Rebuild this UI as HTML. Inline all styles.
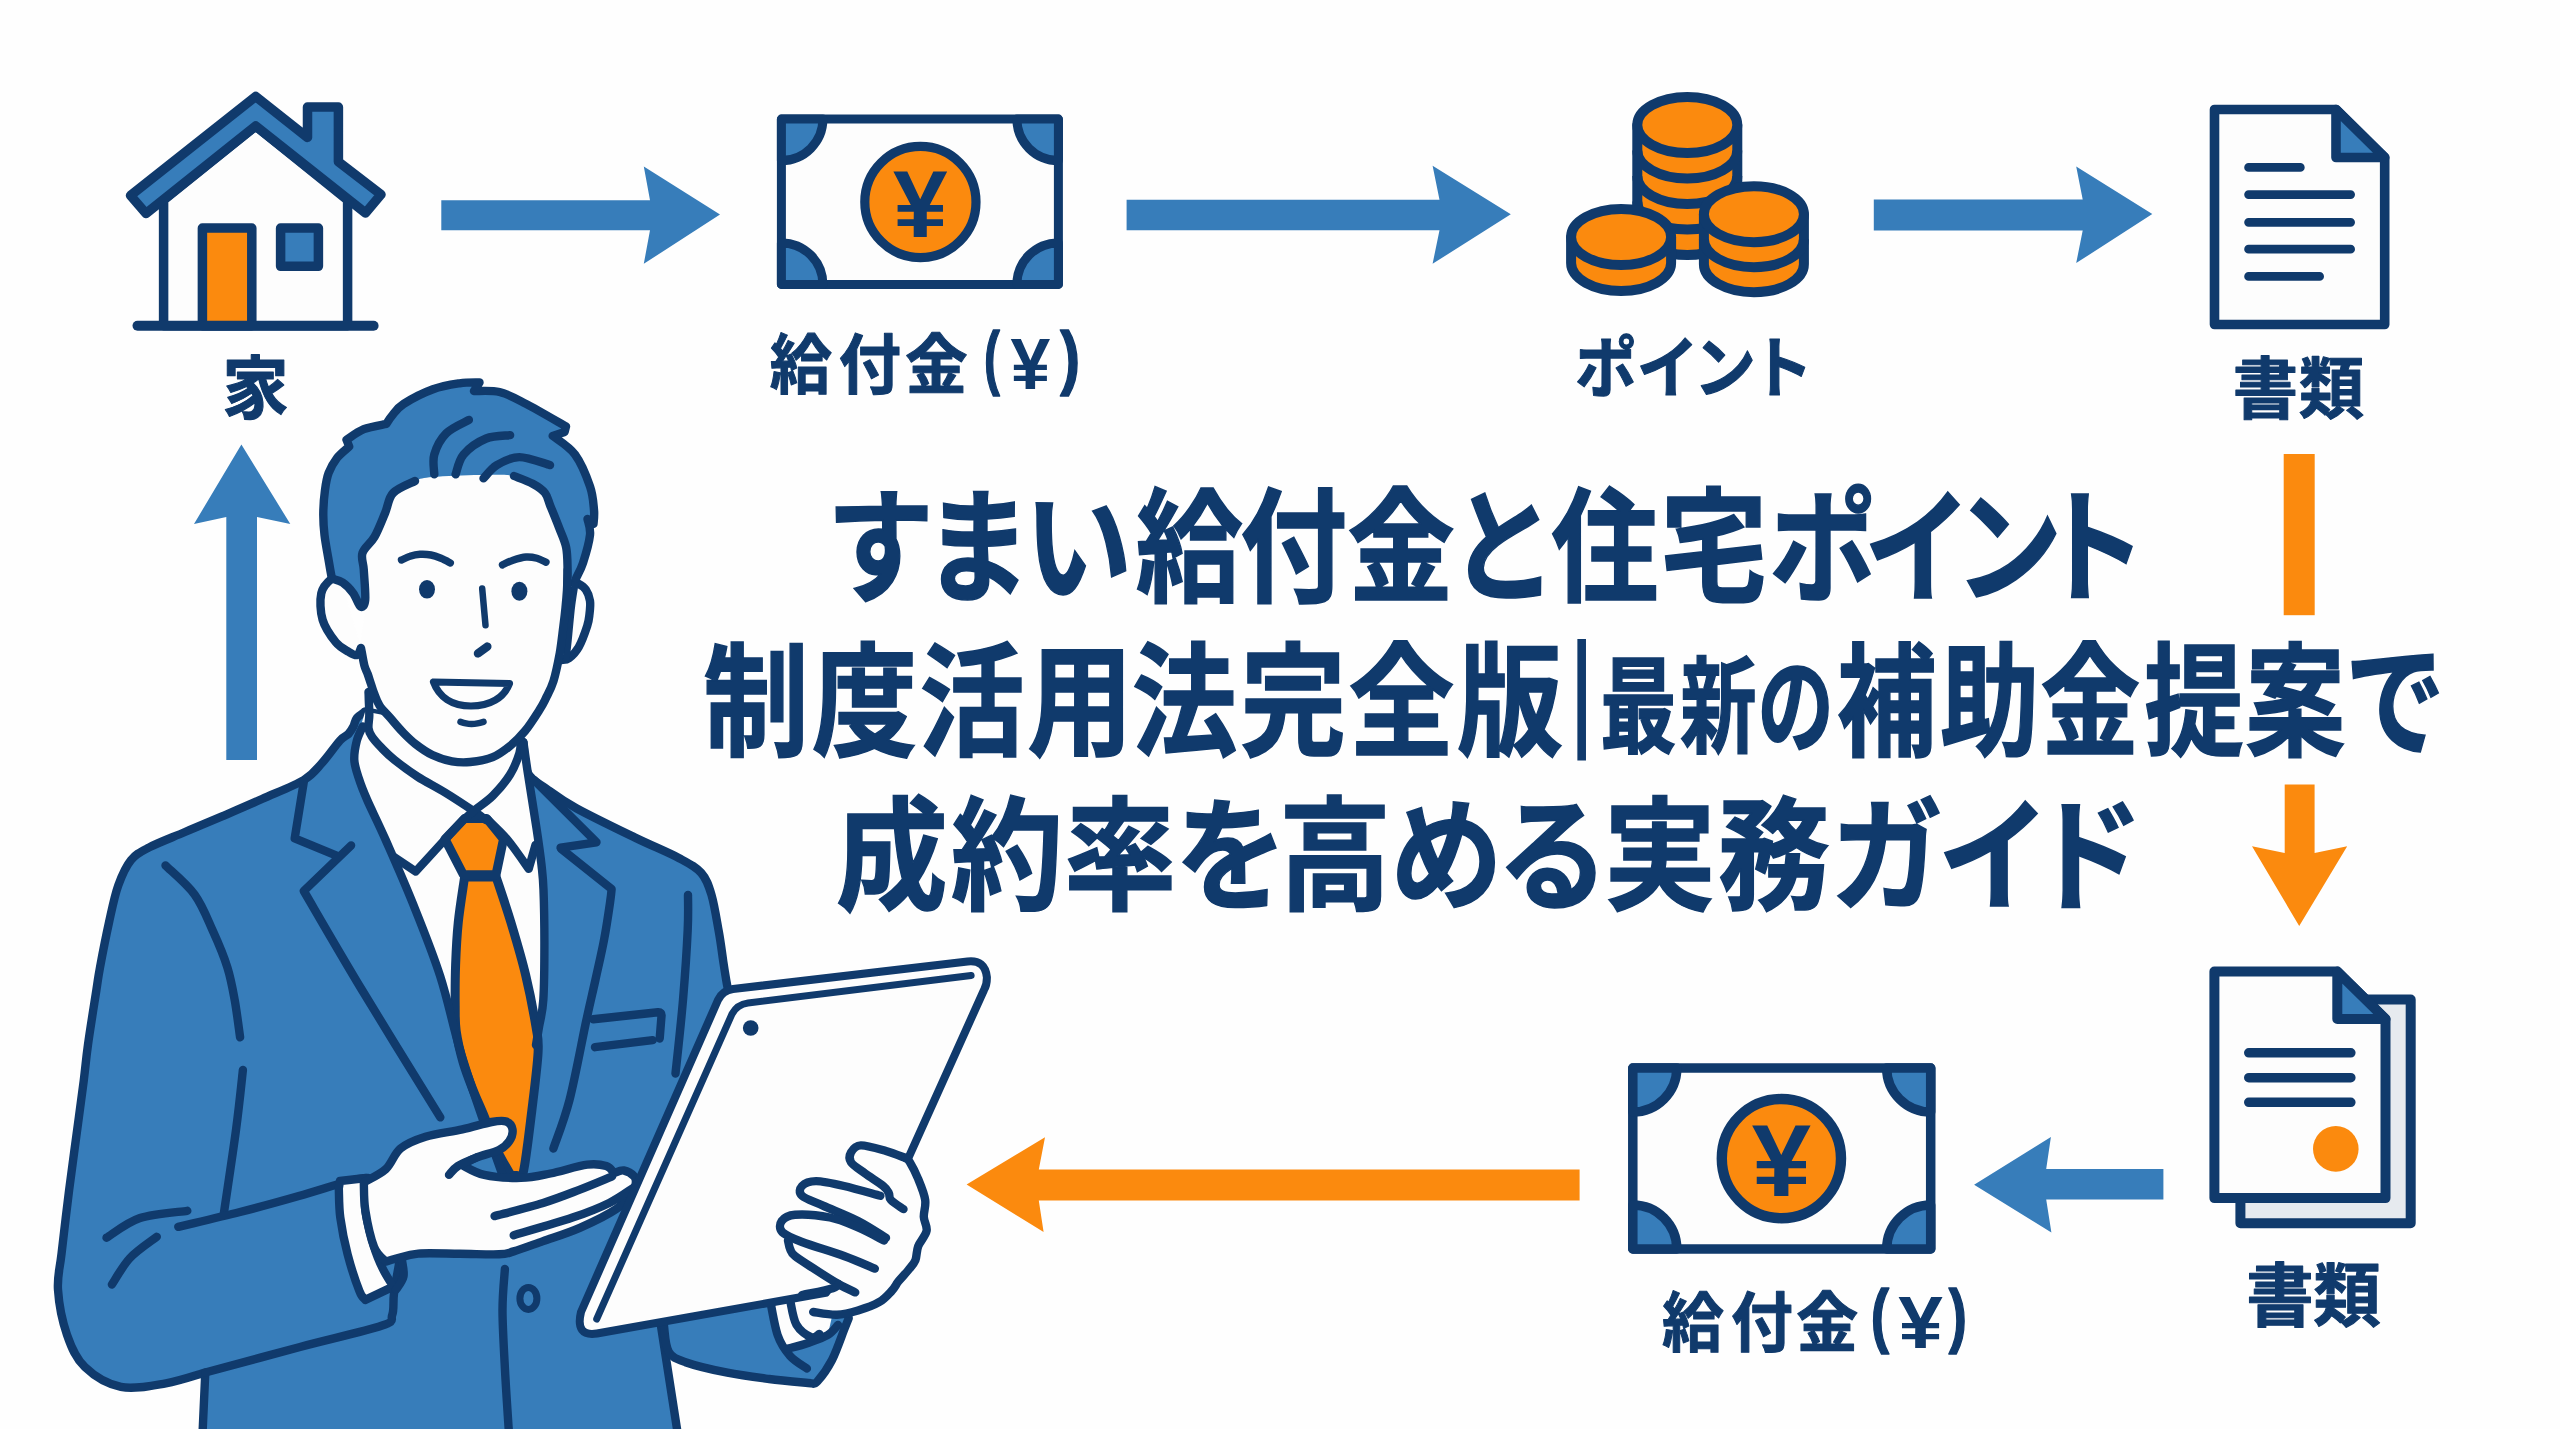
<!DOCTYPE html>
<html lang="ja">
<head>
<meta charset="utf-8">
<title>すまい給付金と住宅ポイント制度活用法完全版</title>
<style>
html,body{margin:0;padding:0;background:#fefefe;}
body{width:2560px;height:1429px;overflow:hidden;font-family:"Liberation Sans","Noto Sans CJK JP",sans-serif;}
svg{display:block;}
text{font-family:"Liberation Sans","Noto Sans CJK JP",sans-serif;}
</style>
</head>
<body>
<svg width="2560" height="1429" viewBox="0 0 2560 1429">
<!-- bg -->
<rect x="0" y="0" width="2560" height="1429" fill="#fefefe"/>

<!-- icons -->
<g id="house" stroke="#103a6c" stroke-width="9.5" stroke-linejoin="round" stroke-linecap="round">
  <path d="M163.6 200 V325.7 H347.6 V200 L255.7 126 Z" fill="#fdfdfd"/>
  <path d="M255.7 96.5 L307.5 137.4 V107 H338.4 V161.8 L381 194.5 L365.5 213 L255.7 126 L146 213.5 L130.5 195.5 Z" fill="#377dba"/>
  <rect x="202.4" y="228" width="49.4" height="97.7" fill="#fb8a0e"/>
  <rect x="280.6" y="228" width="37.8" height="38.3" fill="#377dba"/>
  <path d="M137.5 325.7 H373.6" fill="none" stroke-width="10"/>
</g>
<g id="note1" stroke="#103a6c" stroke-linejoin="round">
  <rect x="781.4" y="119.1" width="277" height="165.3" fill="#fdfdfd" stroke-width="9"/>
  <g fill="#377dba" stroke-width="9">
    <path d="M781.4 119.1 H822.9 A41.5 41.5 0 0 1 781.4 160.6 Z"/>
    <path d="M1058.4 119.1 H1016.9 A41.5 41.5 0 0 0 1058.4 160.6 Z"/>
    <path d="M781.4 284.4 H822.9 A41.5 41.5 0 0 0 781.4 242.9 Z"/>
    <path d="M1058.4 284.4 H1016.9 A41.5 41.5 0 0 1 1058.4 242.9 Z"/>
  </g>
  <circle cx="920.4" cy="202" r="55.6" fill="#fb8a0e" stroke-width="9.2"/>
  <g fill="#103a6c" stroke="none"><text transform="translate(0,236.7) scale(0.9820,0.9448)" x="909.27" y="0" font-size="100" font-weight="700">¥</text></g>
</g>
<g id="coins" fill="#fb8a0e" stroke="#103a6c" stroke-width="10" stroke-linejoin="round">
  <path d="M1637.3 125 V227 A50 28 0 0 0 1737.3 227 V125 Z"/>
  <path d="M1637.3 150.500 A50 28 0 0 0 1737.3 150.5 M1637.3 176 A50 28 0 0 0 1737.3 176 M1637.3 201.5 A50 28 0 0 0 1737.3 201.5" fill="none"/>
  <ellipse cx="1687.3" cy="125" rx="50" ry="28"/>
  <path d="M1703.900 214.2 V264.2 A50 28 0 0 0 1803.9 264.2 V214.2 Z"/>
  <path d="M1703.9 239.2 A50 28 0 0 0 1803.9 239.2" fill="none"/>
  <ellipse cx="1753.9" cy="214.2" rx="50" ry="28"/>
  <path d="M1571.1 237 V263 A50 28 0 0 0 1671.1 263 V237 Z"/>
  <ellipse cx="1621.1" cy="237" rx="50" ry="28"/>
</g>
<g id="doc1" stroke="#103a6c" stroke-width="9.6" stroke-linejoin="round" stroke-linecap="round">
  <path d="M2214.5 109.5 H2336 L2384.7 157.5 V324.5 H2214.5 Z" fill="#fdfdfd"/>
  <path d="M2336 109.500 V157.5 H2384.7 Z" fill="#377dba"/>
  <path d="M2248.600 167.4 H2300.3 M2248.6 194.6 H2350.6 M2248.6 222.3 H2350.6 M2248.6 249.2 H2350.6 M2248.6 276.4 H2319.6" fill="none" stroke-width="8.8"/>
</g>
<g id="doc2" stroke="#103a6c" stroke-width="10" stroke-linejoin="round" stroke-linecap="round">
  <path d="M2359 999.600 H2410.7 V1223.3 H2240.4 V1198" fill="#e6eaef"/>
  <path d="M2214.4 971.6 H2337.3 L2385.5 1019 V1198.1 H2214.4 Z" fill="#fdfdfd"/>
  <path d="M2337.3 971.600 V1019 H2385.5 Z" fill="#377dba"/>
  <path d="M2248.800 1052.8 H2350.800 M2248.8 1077.7 H2350.8 M2248.8 1102.3 H2350.8" fill="none" stroke-width="9.6"/>
  <circle cx="2335.8" cy="1148.9" r="22.8" fill="#fb8a0e" stroke="none"/>
</g>
<g id="note2" stroke="#103a6c" stroke-linejoin="round">
  <rect x="1632.8" y="1068" width="297.9" height="181" fill="#fdfdfd" stroke-width="9.5"/>
  <g fill="#377dba" stroke-width="9.5">
    <path d="M1632.8 1068 H1676.8 A44 44 0 0 1 1632.8 1112 Z"/>
    <path d="M1930.7 1068 H1886.7 A44 44 0 0 0 1930.7 1112 Z"/>
    <path d="M1632.8 1249 H1676.8 A44 44 0 0 0 1632.8 1205 Z"/>
    <path d="M1930.7 1249 H1886.7 A44 44 0 0 1 1930.7 1205 Z"/>
  </g>
  <circle cx="1781.4" cy="1158.6" r="59.6" fill="#fb8a0e" stroke-width="10.4"/>
  <g fill="#103a6c" stroke="none"><text transform="translate(0,1195.8) scale(1.0660,1.0189)" x="1643.35" y="0" font-size="100" font-weight="700">¥</text></g>
</g>

<!-- arrows -->
<g fill="#377dba">
  <path d="M441.3 200.3 H650 L643.8 166.500 L720 214.6 L643.8 263.8 L650 230.3 H441.3 Z"/>
  <path d="M1126.6 199.800 H1439.5 L1432.6 165.8 L1510.8 214.3 L1432.6 263.8 L1439.5 230.2 H1126.6 Z"/>
  <path d="M1873.800 199.6 H2082.700 L2076.2 166.4 L2152.3 214.1 L2076.2 263.1 L2082.7 230.5 H1873.8 Z"/>
  <path d="M241.4 444.500 L290.3 524 L257 517 V760 H226.3 V517 L194 524 Z"/>
  <path d="M2163.4 1169.100 H2046.2 L2050.9 1137 L1974.1 1184.8 L2051.4 1232.4 L2046.2 1199.6 H2163.4 Z"/>
</g>
<g fill="#fb8a0e">
  <rect x="2283.7" y="454" width="31" height="161.2"/>
  <path d="M2284.700 784.5 H2314.600 V853 L2347.2 846.2 L2299.2 926 L2252 846.2 L2284.7 853 Z"/>
  <path d="M1579.600 1169.6 H1038.800 L1045 1137.2 L966.6 1184.5 L1043.6 1232 L1038.8 1200.4 H1579.6 Z"/>
</g>

<!-- labels -->
<g fill="#103a6c">
<text transform="translate(0,412.7) scale(0.6638,0.6833)" x="334.67" y="0" font-size="100" font-weight="700" stroke="#103a6c" stroke-width="1.6" stroke-linejoin="round">家</text>
<text transform="translate(0,387.6) scale(0.6230,0.6524)" x="1235.45 1346.46 1452.95" y="0" font-size="100" font-weight="700" stroke="#103a6c" stroke-width="1.6" stroke-linejoin="round">給付金</text>
<text transform="translate(0,381.3) scale(0.4748,0.6963)" x="2072.33" y="0" font-size="100" font-weight="700" stroke="#103a6c" stroke-width="2.2" stroke-linejoin="round">(</text>
<text transform="translate(0,389.0) scale(0.7155,0.7268)" x="1412.42" y="0" font-size="100" font-weight="700">¥</text>
<text transform="translate(0,381.3) scale(0.5953,0.6963)" x="1780.95" y="0" font-size="100" font-weight="700" stroke="#103a6c" stroke-width="2.2" stroke-linejoin="round">)</text>
<text transform="translate(0,392.1) scale(0.6195,0.6699)" x="2542.36 2641.96 2734.65 2826.35" y="0" font-size="100" font-weight="700" stroke="#103a6c" stroke-width="1.6" stroke-linejoin="round">ポイント</text>
<text transform="translate(0,412.6) scale(0.6541,0.6656)" x="3413.58 3514.51" y="0" font-size="100" font-weight="700" stroke="#103a6c" stroke-width="1.6" stroke-linejoin="round">書類</text>
<text transform="translate(0,1321.2) scale(0.6747,0.6952)" x="3329.36 3428.69" y="0" font-size="100" font-weight="700" stroke="#103a6c" stroke-width="1.6" stroke-linejoin="round">書類</text>
<text transform="translate(0,1345.8) scale(0.6192,0.6429)" x="2683.92 2795.45 2900.73" y="0" font-size="100" font-weight="700" stroke="#103a6c" stroke-width="1.6" stroke-linejoin="round">給付金</text>
<text transform="translate(0,1339.4) scale(0.5492,0.7016)" x="3406.50" y="0" font-size="100" font-weight="700" stroke="#103a6c" stroke-width="2.2" stroke-linejoin="round">(</text>
<text transform="translate(0,1348.1) scale(0.8031,0.7427)" x="2363.59" y="0" font-size="100" font-weight="700">¥</text>
<text transform="translate(0,1339.4) scale(0.5457,0.7016)" x="3570.98" y="0" font-size="100" font-weight="700" stroke="#103a6c" stroke-width="2.2" stroke-linejoin="round">)</text>
</g>

<!-- title -->
<g fill="#103a6c">
<text transform="translate(0,591.5) scale(0.8645,1)" x="956.3 1068.7 1185.3 1313.9 1434.5 1558.8 1676.6 1794.5 1920.6 2046.5 2156.3 2261.5 2358.7" y="0" font-size="124" font-weight="700" stroke="#103a6c" stroke-width="1.50" stroke-linejoin="miter">すまい給付金と住宅ポイント</text>
<text transform="translate(0,746) scale(0.8579,1)" x="819.7 946.1 1071.2 1197.5 1319.2 1446.0 1572.1 1698.6" y="0" font-size="123" font-weight="700" stroke="#103a6c" stroke-width="1.51" stroke-linejoin="miter">制度活用法完全版</text>
<text transform="translate(0,731.6) scale(0.6722,1.2791)" x="2338.85" y="0" font-size="100" font-weight="700">|</text>
<text transform="translate(0,744) scale(0.7265,1)" x="2202.7 2312.9 2419.3" y="0" font-size="105" font-weight="700" stroke="#103a6c" stroke-width="1.62" stroke-linejoin="miter">最新の</text>
<text transform="translate(0,746) scale(0.8090,1)" x="2270.6 2398.0 2522.2 2650.4 2775.8 2898.9" y="0" font-size="123" font-weight="700" stroke="#103a6c" stroke-width="1.55" stroke-linejoin="miter">補助金提案で</text>
<text transform="translate(0,899.5) scale(0.9100,1)" x="918.5 1045.1 1169.6 1291.2 1405.5 1528.1 1644.9 1762.6 1887.9 2011.8 2129.4 2232.5" y="0" font-size="123" font-weight="700" stroke="#103a6c" stroke-width="1.47" stroke-linejoin="miter">成約率を高める実務ガイド</text>
</g>

<!-- man -->
<g id="man" stroke-linecap="round" stroke-linejoin="round">
<path d="M365.2 711.4 C363.8 712.5 358.8 715.6 356.8 718.1 C354.8 720.6 354.8 723.9 353.4 726.5 C352.0 729.1 350.6 731.7 348.4 734.0 C346.2 736.3 344.4 735.7 340.0 740.5 C335.6 745.3 328.0 756.4 322.0 763.0 C316.0 769.6 313.8 774.0 303.8 780.0 C293.8 786.0 275.6 792.9 262.0 799.0 C248.4 805.1 234.8 810.9 222.0 816.4 C209.2 821.9 197.1 826.8 185.0 832.0 C172.9 837.2 158.2 842.7 149.2 847.4 C140.2 852.1 136.2 853.7 131.0 860.1 C125.8 866.5 121.9 875.3 118.2 885.6 C114.5 895.9 112.1 908.4 109.1 922.0 C106.1 935.6 102.1 956.1 100.0 967.4 C97.9 978.7 98.4 977.1 96.4 990.0 C94.4 1002.9 90.1 1029.4 88.0 1044.6 C85.9 1059.8 85.6 1065.8 83.7 1081.0 C81.8 1096.2 78.8 1117.4 76.4 1135.6 C74.0 1153.8 71.6 1170.5 69.1 1190.2 C66.6 1209.9 63.4 1237.3 61.5 1253.9 C59.6 1270.5 57.1 1276.3 58.0 1289.8 C58.9 1303.3 62.5 1321.9 67.0 1334.8 C71.5 1347.7 75.9 1358.4 84.9 1367.1 C93.9 1375.8 107.4 1384.2 120.9 1386.9 C134.4 1389.6 151.7 1385.7 165.8 1383.3 C179.9 1380.9 198.7 1374.3 205.3 1372.5 L202.0 1445.0 L679.5 1445.0 L661.0 1326.0 L728.0 989.5  C727.7 987.9 727.0 984.8 726.2 980.0 C725.4 975.2 724.4 969.1 723.2 961.0 C722.0 952.9 720.8 942.6 718.8 931.6 C716.8 920.6 714.4 904.7 711.5 894.9 C708.6 885.1 706.6 879.0 701.2 872.9 C695.8 866.8 690.2 864.1 679.2 858.2 C668.2 852.3 652.2 845.9 635.1 837.6 C618.0 829.3 591.0 816.3 576.3 808.2 C561.6 800.1 555.0 795.0 546.9 789.1 C538.8 783.2 531.7 780.8 527.8 772.9 C523.9 765.0 524.1 747.1 523.4 742.0 Z" fill="#377dba" stroke="#103a6c" stroke-width="8.4" />
<path d="M365.2 711.4 C363.8 716.3 358.6 732.7 356.8 740.8 C355.0 748.9 354.0 753.8 354.3 760.0 C354.6 766.2 356.7 771.6 358.8 778.3 C360.9 785.0 362.7 789.7 367.2 800.0 C371.7 810.3 378.1 822.7 385.7 840.0 C393.3 857.3 403.9 881.0 413.0 903.8 C422.1 926.5 432.5 952.1 440.3 976.5 C448.1 1000.9 453.1 1026.6 460.0 1050.0 C466.9 1073.4 475.0 1096.4 482.0 1117.0 C489.0 1137.6 498.7 1164.1 502.0 1173.5 L522.5 1173.5  C523.9 1161.2 528.4 1121.4 531.0 1100.0 C533.6 1078.6 536.0 1061.7 538.0 1045.0 C540.0 1028.3 542.2 1017.0 543.3 1000.0 C544.4 983.0 544.4 961.3 544.4 943.0 C544.4 924.7 544.0 903.0 543.5 890.0 C543.0 877.0 542.6 875.2 541.5 865.0 C540.4 854.8 538.9 844.1 536.6 828.8 C534.3 813.4 530.0 787.4 527.8 772.9 C525.6 758.4 524.1 747.1 523.4 742.0 Z" fill="#fdfdfd" stroke="none" stroke-width="8.4" />
<path d="M464.6 877.0 C463.6 884.5 459.8 907.3 458.3 922.0 C456.8 936.7 456.1 951.0 455.6 965.0 C455.1 979.0 455.1 994.9 455.2 1005.9 C455.3 1016.9 454.9 1021.7 456.2 1031.1 C457.5 1040.4 460.2 1052.2 463.0 1062.0 C465.8 1071.8 469.4 1080.7 473.0 1089.9 C476.6 1099.1 480.6 1107.2 484.6 1117.2 C488.6 1127.2 492.6 1140.3 497.0 1150.0 C501.4 1159.7 508.7 1171.2 511.0 1175.5 L517.0 1175.5  C518.1 1174.9 520.9 1182.5 523.4 1171.7 C525.9 1160.9 529.3 1130.8 531.8 1110.9 C534.2 1091.0 537.4 1066.1 538.1 1052.1 C538.8 1038.1 538.1 1039.9 536.0 1026.9 C533.9 1014.0 529.7 991.9 525.5 974.4 C521.3 956.9 515.7 938.2 510.8 922.0 C505.9 905.8 498.6 884.5 496.1 877.0 Z" fill="#fb8a0e" stroke="#103a6c" stroke-width="9" />
<path d="M464.6 818.5 L486.7 818.5 L503.5 839.1 L496 874.8 L463.4 874.8 L445 839.1 Z" fill="#fb8a0e" stroke="#103a6c" stroke-width="9" />
<path d="M394.0 857.0 L415.7 871.5  C420.4 866.4 435.6 849.8 443.6 841.0 C451.7 832.2 460.6 822.7 464.0 819.0" fill="none" stroke="#103a6c" stroke-width="8.4" />
<path d="M487.0 819.0 C490.4 822.4 500.4 831.3 507.4 839.6 C514.4 847.9 525.2 864.0 528.7 868.9 L535.5 845.0" fill="none" stroke="#103a6c" stroke-width="8.4" />
<path d="M368.5 692.0 C368.6 693.3 368.7 696.1 368.8 700.0 C368.9 703.9 369.4 710.9 369.3 715.6 C369.2 720.3 368.1 724.7 368.5 728.2 C368.9 731.7 369.6 733.2 371.9 736.6 C374.1 740.0 378.2 744.4 382.0 748.3 C385.8 752.2 388.7 755.3 394.6 760.0 C400.5 764.7 409.1 771.2 417.5 776.6 C425.9 782.0 435.4 786.6 445.0 792.5 C454.6 798.4 468.2 807.4 475.0 812.0 C481.8 816.6 484.2 818.7 486.0 820.0" fill="none" stroke="#103a6c" stroke-width="8.4" />
<path d="M465.0 818.5 C466.5 817.1 469.6 814.2 474.2 810.4 C478.8 806.6 486.8 801.7 492.8 795.7 C498.8 789.7 505.7 781.6 510.1 774.5 C514.5 767.4 517.6 759.0 519.4 753.2 C521.2 747.4 520.5 742.1 520.7 739.9" fill="none" stroke="#103a6c" stroke-width="8.4" />
<path d="M362.7 726.5 C361.7 728.9 358.2 735.2 356.8 740.8 C355.4 746.4 354.0 753.8 354.3 760.0 C354.6 766.2 356.7 771.6 358.8 778.3 C360.9 785.0 362.7 789.7 367.2 800.0 C371.7 810.3 378.1 822.7 385.7 840.0 C393.3 857.3 403.9 881.0 413.0 903.8 C422.1 926.5 432.5 952.1 440.3 976.5 C448.1 1000.9 453.1 1026.6 460.0 1050.0 C466.9 1073.4 475.0 1096.4 482.0 1117.0 C489.0 1137.6 498.7 1164.1 502.0 1173.5" fill="none" stroke="#103a6c" stroke-width="8.4" />
<path d="M523.4 742.0 C524.1 747.1 525.6 758.4 527.8 772.9 C530.0 787.4 534.3 813.4 536.6 828.8 C538.9 844.1 540.4 854.8 541.5 865.0 C542.6 875.2 543.0 877.0 543.5 890.0 C544.0 903.0 544.4 924.7 544.4 943.0 C544.4 961.3 544.2 986.0 543.3 1000.0 C542.4 1014.0 540.2 1019.5 539.0 1027.0 C537.8 1034.5 536.5 1042.0 536.0 1045.0" fill="none" stroke="#103a6c" stroke-width="8.4" />
<path d="M303.8 781.8 L294.7 838.3 L338.4 856.4" fill="none" stroke="#103a6c" stroke-width="8.4" />
<path d="M351.1 845.5 L303.8 891.0  C313.5 907.5 339.2 952.3 362.0 990.0 C384.8 1027.7 427.2 1096.2 440.3 1117.4" fill="none" stroke="#103a6c" stroke-width="8.4" />
<path d="M534 780 L596.5 842.3 L560.6 847.6" fill="none" stroke="#103a6c" stroke-width="8.4" />
<path d="M561.0 848.6 L611.6 889.0  C611.4 891.2 611.3 893.9 610.1 902.2 C608.9 910.5 606.7 926.0 604.2 939.0 C601.8 952.0 598.4 966.3 595.4 980.0 C592.4 993.7 590.5 1001.0 586.2 1021.0 C581.9 1041.0 575.0 1078.8 569.5 1100.0 C564.0 1121.2 556.1 1140.4 553.4 1148.5" fill="none" stroke="#103a6c" stroke-width="8.4" />
<path d="M165.5 865.5 C170.4 870.4 186.8 883.8 194.7 894.7 C202.6 905.6 207.4 918.9 212.9 931.0 C218.4 943.1 223.8 955.9 227.4 967.4 C231.0 978.9 232.6 988.4 234.7 1000.0 C236.8 1011.6 239.2 1031.1 240.1 1037.3" fill="none" stroke="#103a6c" stroke-width="8.4" />
<path d="M242.9 1070.0 C241.8 1080.0 239.2 1106.0 236.0 1130.0 C232.8 1154.0 225.8 1199.8 223.8 1213.8" fill="none" stroke="#103a6c" stroke-width="8.4" />
<path d="M688.0 894.9 C688.0 900.8 688.5 912.5 687.7 930.0 C686.9 947.5 685.0 976.1 683.0 1000.0 C681.0 1023.9 676.8 1061.2 675.5 1073.5" fill="none" stroke="#103a6c" stroke-width="8.4" />
<path d="M593.2 1019.2 L658 1012.2 Q662 1012 661.5 1016 L659.7 1038.5" fill="none" stroke="#103a6c" stroke-width="8.4" />
<path d="M595 1047.2 L652.7 1040.2" fill="none" stroke="#103a6c" stroke-width="8.4" />
<path d="M504.9 1269.0 C504.5 1275.8 502.5 1293.2 502.5 1310.0 C502.5 1326.8 503.9 1348.3 505.0 1370.0 C506.1 1391.7 508.7 1428.3 509.4 1440.0" fill="none" stroke="#103a6c" stroke-width="8.4" />
<ellipse cx="528.4" cy="1298.4" rx="8.5" ry="11" fill="#377dba" stroke="#103a6c" stroke-width="7"/>
<path d="M178.3 1226.8 C188.6 1224.3 219.9 1217.1 240.0 1212.0 C260.1 1206.9 280.6 1201.2 298.8 1196.0 C317.0 1190.8 337.7 1184.0 349.3 1181.0 C360.9 1178.0 365.1 1178.4 368.2 1177.9" fill="none" stroke="#103a6c" stroke-width="8.4" />
<path d="M106.5 1237.7 C112.1 1234.4 126.5 1222.5 140.0 1218.0 C153.5 1213.5 179.4 1212.0 187.3 1210.8" fill="none" stroke="#103a6c" stroke-width="8.4" />
<path d="M111.9 1284.5 C114.9 1280.1 122.5 1266.0 130.0 1258.0 C137.5 1250.0 152.3 1240.3 156.8 1236.8" fill="none" stroke="#103a6c" stroke-width="8.4" />
<path d="M205.3 1372.5 C221.1 1368.2 270.6 1354.8 300.0 1347.0 C329.4 1339.2 366.0 1331.1 381.4 1325.8 C396.8 1320.5 390.1 1320.4 392.2 1315.0 C394.3 1309.6 392.8 1302.2 394.0 1293.4 C395.2 1284.6 398.5 1267.2 399.4 1262.0" fill="none" stroke="#103a6c" stroke-width="8.4" />
<path d="M340.0 1181.0 L366.0 1178.0  C365.9 1183.4 363.9 1198.7 365.3 1210.2 C366.7 1221.7 371.2 1237.2 374.1 1247.0 C377.0 1256.8 379.7 1262.4 382.9 1269.0 C386.1 1275.6 391.5 1283.7 393.2 1286.6 L365.3 1299.9  C364.3 1298.4 362.3 1298.6 359.4 1291.0 C356.4 1283.4 350.8 1266.5 347.6 1254.3 C344.4 1242.1 341.8 1228.6 340.3 1217.6 C338.8 1206.6 339.1 1193.1 338.8 1188.2 Z" fill="#fdfdfd" stroke="#103a6c" stroke-width="8.4" />
<path d="M363.8 1182.3 C367.5 1180.1 379.7 1174.7 385.8 1169.1 C391.9 1163.5 393.9 1153.9 400.5 1148.5 C407.1 1143.1 415.2 1139.9 425.5 1136.7 C435.8 1133.5 451.3 1131.9 462.3 1129.4 C473.3 1127.0 484.3 1123.3 491.6 1122.0 C498.9 1120.7 502.8 1120.3 506.3 1121.5 C509.8 1122.7 512.0 1126.1 512.5 1129.4 C513.0 1132.7 511.6 1137.7 509.3 1141.1 C507.1 1144.5 504.4 1147.3 499.0 1150.0 C493.6 1152.7 483.1 1154.8 476.9 1157.3 C470.7 1159.8 464.5 1163.7 462.0 1165.0  C465.7 1166.7 474.5 1172.8 484.3 1174.9 C494.1 1177.1 510.0 1178.1 521.0 1177.9 C532.0 1177.7 539.4 1175.7 550.4 1173.5 C561.4 1171.3 577.9 1165.9 587.2 1164.7 C596.5 1163.5 601.8 1164.7 606.3 1166.1 C610.8 1167.5 612.7 1171.8 614.0 1173.0  C615.6 1172.6 620.5 1169.9 623.9 1170.5 C627.3 1171.1 632.2 1174.2 634.2 1176.4 C636.2 1178.7 636.1 1181.4 635.7 1184.0 C635.3 1186.6 632.6 1190.7 632.0 1192.0  C629.4 1194.8 625.3 1202.7 616.6 1208.7 C607.9 1214.7 592.0 1222.4 579.8 1227.8 C567.5 1233.2 554.1 1237.2 543.1 1241.1 C532.1 1245.0 521.1 1249.2 513.7 1251.4 C506.4 1253.6 507.9 1253.9 499.0 1254.3 C490.1 1254.7 473.5 1253.9 460.0 1253.8 C446.5 1253.7 428.8 1252.8 418.2 1253.6 C407.6 1254.4 401.5 1257.4 396.1 1258.7 C390.7 1260.0 387.5 1261.1 385.8 1261.6  C383.9 1259.2 377.5 1255.6 374.1 1247.0 C370.7 1238.4 367.0 1221.0 365.3 1210.2 C363.6 1199.4 364.1 1187.0 363.8 1182.3 Z" fill="#fdfdfd" stroke="#103a6c" stroke-width="8.4" />
<path d="M476.9 1157.3 C473.7 1158.8 462.4 1163.2 457.8 1166.1 C453.2 1169.0 450.5 1173.4 449.0 1174.9" fill="none" stroke="#103a6c" stroke-width="8.4" />
<path d="M612.1 1176.4 C606.7 1178.6 591.3 1185.2 579.8 1189.6 C568.3 1194.0 557.3 1198.5 543.1 1202.9 C528.9 1207.3 502.7 1213.9 494.6 1216.1" fill="none" stroke="#103a6c" stroke-width="8.4" />
<path d="M632.7 1188.2 C628.8 1190.7 619.2 1198.0 609.2 1202.9 C599.2 1207.8 588.4 1212.2 572.5 1217.6 C556.6 1223.0 523.5 1232.3 513.7 1235.2" fill="none" stroke="#103a6c" stroke-width="8.4" />
<path d="M402.0 1260.2 C402.2 1262.9 404.5 1271.4 403.5 1276.3 C402.5 1281.2 397.3 1287.4 396.1 1289.6" fill="none" stroke="#103a6c" stroke-width="8.4" />
<path d="M663.0 1300.0 C663.2 1304.3 663.0 1317.4 664.0 1326.0 C665.0 1334.6 665.2 1345.8 668.8 1351.8 C672.4 1357.8 675.7 1358.7 685.5 1362.2 C695.3 1365.7 713.4 1369.9 727.4 1372.7 C741.4 1375.5 755.3 1377.2 769.2 1379.0 C783.1 1380.8 804.0 1382.5 811.0 1383.2  C812.0 1382.9 813.8 1385.4 817.3 1381.5 C820.8 1377.6 827.5 1368.8 832.0 1360.0 C836.5 1351.2 841.7 1335.7 844.5 1328.7 C847.3 1321.8 848.0 1320.0 848.7 1318.3 L840.0 1270.0 L663.0 1300.0 Z" fill="#377dba" stroke="#103a6c" stroke-width="8.4" />
<path d="M769.2 1290.0 C770.6 1297.5 774.5 1325.2 777.6 1335.0 C780.7 1344.8 786.3 1346.3 788.0 1348.6  C791.3 1347.7 801.4 1345.3 808.0 1343.0 C814.6 1340.7 824.5 1336.3 827.8 1335.0 L838.0 1290.0 L769.2 1290.0 Z" fill="#fdfdfd" stroke="none" stroke-width="8.4" />
<path d="M769.2 1295.0 C770.6 1301.7 774.1 1324.8 777.6 1335.0 C781.1 1345.2 785.2 1350.4 790.1 1356.0 C795.0 1361.6 804.1 1366.4 806.9 1368.5" fill="none" stroke="#103a6c" stroke-width="8.4" />
<path d="M788.0 1348.6 C791.3 1347.7 801.4 1345.3 808.0 1343.0 C814.6 1340.7 822.8 1338.0 827.8 1335.0 C832.8 1332.0 836.3 1326.7 838.0 1325.0" fill="none" stroke="#103a6c" stroke-width="8.4" />
<path d="M790.1 1300.0 C791.1 1304.1 792.9 1318.4 796.4 1324.6 C799.9 1330.8 807.2 1335.5 811.0 1337.1 C814.8 1338.7 818.0 1334.5 819.4 1334.0" fill="none" stroke="#103a6c" stroke-width="8.4" />
<path d="M733 989 L967.6 961.5 Q985 959.500 986.9 977.2 Q987 985 984 990 L849.6 1288.5 L597 1333.500 Q575 1337 581 1312 L718 1000 Q722.500 990.5 733 989 Z" fill="#fdfdfd" stroke="#103a6c" stroke-width="8" />
<path d="M971.1 975.500 L748 1003 Q737 1004.500 732 1014 L596.7 1319" fill="none" stroke="#103a6c" stroke-width="7" />
<circle cx="750.7" cy="1028" r="7.8" fill="#103a6c"/>
<path d="M905.6 1158.0 C902.3 1156.8 893.5 1153.1 886.0 1151.0 C878.5 1148.9 866.6 1145.2 860.8 1145.4 C855.0 1145.6 852.6 1149.6 851.0 1152.4 C849.4 1155.2 848.7 1158.7 851.0 1162.2 C853.3 1165.7 859.6 1169.4 865.0 1173.4 C870.4 1177.4 879.2 1182.7 883.2 1186.0 C887.2 1189.3 887.9 1191.8 888.8 1193.0  C887.4 1193.5 887.9 1197.0 880.4 1195.8 C872.9 1194.6 854.7 1188.5 844.0 1186.0 C833.3 1183.5 823.0 1181.1 816.0 1181.1 C809.0 1181.1 804.3 1183.5 802.0 1186.0 C799.7 1188.5 800.3 1193.1 802.0 1195.8 C803.7 1198.5 810.3 1201.0 812.0 1202.0  C813.8 1204.2 825.8 1213.3 823.0 1215.4 C820.2 1217.5 801.9 1213.8 795.0 1214.7 C788.1 1215.6 783.8 1218.1 781.7 1221.0 C779.6 1223.9 781.0 1229.4 782.4 1232.2 C783.8 1235.0 788.7 1237.0 790.0 1238.0  C789.7 1238.4 788.0 1238.8 788.0 1240.6 C788.0 1242.4 788.9 1246.4 790.1 1249.0 C791.3 1251.6 790.7 1252.5 795.0 1256.0 C799.3 1259.5 808.8 1265.3 816.0 1270.0 C823.2 1274.7 834.7 1281.7 838.4 1284.0  C836.2 1286.7 829.2 1295.3 825.0 1300.0 C820.8 1304.7 815.2 1310.0 813.2 1312.0  C817.2 1312.5 829.5 1315.0 837.0 1314.7 C844.5 1314.5 851.0 1312.6 858.0 1310.5 C865.0 1308.4 873.4 1305.5 879.0 1302.2 C884.6 1299.0 888.3 1294.5 891.6 1291.0 C894.9 1287.5 895.8 1284.7 898.6 1281.2 C901.4 1277.7 905.6 1273.5 908.4 1270.0 C911.2 1266.5 913.8 1264.2 915.4 1260.2 C917.0 1256.2 916.3 1251.1 918.2 1246.2 C920.1 1241.3 925.7 1235.7 926.6 1230.8 C927.5 1225.9 924.0 1221.9 923.8 1216.8 C923.6 1211.7 926.1 1206.3 925.2 1200.0 C924.3 1193.7 920.8 1185.3 918.2 1179.0 C915.6 1172.7 911.9 1165.7 909.8 1162.2 C907.7 1158.7 906.3 1158.7 905.6 1158.0 Z" fill="#fdfdfd" stroke="none" stroke-width="8.4" />
<path d="M905.6 1158.0 C902.3 1156.8 893.5 1153.1 886.0 1151.0 C878.5 1148.9 866.6 1145.2 860.8 1145.4 C855.0 1145.6 852.6 1149.6 851.0 1152.4 C849.4 1155.2 848.7 1158.7 851.0 1162.2 C853.3 1165.7 859.6 1169.4 865.0 1173.4 C870.4 1177.4 879.2 1182.7 883.2 1186.0 C887.2 1189.3 887.5 1190.7 888.8 1193.0 C890.1 1195.3 888.4 1197.3 890.9 1200.0 C893.4 1202.7 901.4 1207.6 903.5 1209.1" fill="none" stroke="#103a6c" stroke-width="8.4" />
<path d="M880.4 1195.8 C874.3 1194.2 854.7 1188.5 844.0 1186.0 C833.3 1183.5 823.0 1181.1 816.0 1181.1 C809.0 1181.1 804.3 1183.5 802.0 1186.0 C799.7 1188.5 798.5 1192.5 802.0 1195.8 C805.5 1199.1 813.7 1201.4 823.0 1205.6 C832.3 1209.8 847.5 1215.6 858.0 1221.0 C868.5 1226.4 881.3 1235.0 886.0 1237.8" fill="none" stroke="#103a6c" stroke-width="8.4" />
<path d="M884.0 1240.5 C879.7 1238.3 867.0 1231.3 858.0 1227.5 C849.0 1223.7 840.5 1219.6 830.0 1217.5 C819.5 1215.4 803.0 1214.1 795.0 1214.7 C787.0 1215.3 783.8 1218.1 781.7 1221.0 C779.6 1223.9 779.0 1228.7 782.4 1232.2 C785.8 1235.7 791.7 1238.0 802.0 1242.0 C812.3 1246.0 831.9 1251.6 844.0 1256.0 C856.1 1260.4 869.7 1266.5 874.8 1268.6" fill="none" stroke="#103a6c" stroke-width="8.4" />
<path d="M788.0 1240.6 C788.4 1242.0 788.9 1246.4 790.1 1249.0 C791.3 1251.6 790.7 1252.5 795.0 1256.0 C799.3 1259.5 808.8 1265.3 816.0 1270.0 C823.2 1274.7 831.9 1280.3 838.4 1284.0 C844.9 1287.7 852.4 1291.0 855.2 1292.4" fill="none" stroke="#103a6c" stroke-width="8.4" />
<path d="M813.2 1312.0 C817.2 1312.5 829.5 1315.0 837.0 1314.7 C844.5 1314.5 851.0 1312.6 858.0 1310.5 C865.0 1308.4 873.4 1305.5 879.0 1302.2 C884.6 1299.0 888.3 1294.5 891.6 1291.0 C894.9 1287.5 895.8 1284.7 898.6 1281.2 C901.4 1277.7 905.6 1273.5 908.4 1270.0 C911.2 1266.5 913.8 1264.2 915.4 1260.2 C917.0 1256.2 916.3 1251.1 918.2 1246.2 C920.1 1241.3 925.7 1235.7 926.6 1230.8 C927.5 1225.9 924.0 1221.9 923.8 1216.8 C923.6 1211.7 926.1 1206.3 925.2 1200.0 C924.3 1193.7 920.8 1185.3 918.2 1179.0 C915.6 1172.7 911.9 1165.7 909.8 1162.2 C907.7 1158.7 906.3 1158.7 905.6 1158.0" fill="none" stroke="#103a6c" stroke-width="8.4" />
<path d="M802.0 1295.2 C807.1 1294.0 826.7 1290.1 832.8 1288.2 C838.9 1286.3 837.5 1284.7 838.4 1284.0" fill="none" stroke="#103a6c" stroke-width="8.4" />
<path d="M340.0 578.0 C338.6 578.1 335.0 576.1 331.9 578.6 C328.8 581.1 322.9 586.3 321.3 593.2 C319.8 600.1 320.2 611.6 322.6 619.8 C325.0 628.0 331.5 637.0 335.9 642.4 C340.3 647.8 345.5 649.9 349.0 652.0 C352.5 654.1 355.0 655.7 357.0 655.0 C359.0 654.3 360.3 649.2 361.0 648.0" fill="#fdfdfd" stroke="#103a6c" stroke-width="8.4" />
<path d="M572.0 582.0 C573.0 582.2 575.7 582.2 578.0 583.5 C580.3 584.8 583.8 586.7 585.8 589.6 C587.8 592.5 589.4 596.7 590.0 600.8 C590.6 604.9 590.0 609.8 589.5 614.0 C589.0 618.2 589.0 620.5 587.2 626.0 C585.4 631.5 581.8 641.6 578.8 647.0 C575.8 652.4 571.8 656.1 569.0 658.3 C566.2 660.5 563.2 659.7 562.0 660.0" fill="#fdfdfd" stroke="#103a6c" stroke-width="8.4" />
<path d="M576.0 578.4 C575.3 582.8 573.1 594.7 571.8 605.0 C570.5 615.3 569.2 631.1 568.3 640.0 C567.4 648.9 566.6 655.2 566.2 658.3" fill="none" stroke="#103a6c" stroke-width="7" />
<path d="M365.0 560.0 C359.2 579.3 365.8 593.5 365.2 606.0 C364.6 618.5 362.2 628.0 361.5 635.0 C360.8 642.0 360.5 643.0 361.0 648.0 C361.5 653.0 363.2 660.9 364.3 665.2 C365.4 669.5 366.6 670.9 367.7 674.0 C368.8 677.1 369.9 680.8 371.0 684.0 C372.1 687.2 372.6 689.4 374.0 693.0 C375.4 696.6 376.8 701.3 379.5 705.5 C382.2 709.7 386.5 713.6 390.4 718.1 C394.3 722.6 398.8 728.1 403.0 732.4 C407.2 736.7 410.7 740.3 415.6 744.1 C420.5 747.9 426.3 752.1 432.4 755.0 C438.5 757.9 445.7 760.1 452.0 761.3 C458.3 762.5 463.4 762.7 470.2 762.0 C477.0 761.3 486.2 759.9 492.8 757.2 C499.4 754.5 504.6 750.4 510.0 746.0 C515.4 741.6 520.1 737.0 525.0 731.0 C529.9 725.0 535.9 715.5 539.4 710.0 C542.9 704.5 543.6 702.8 546.0 698.0 C548.4 693.2 551.2 688.5 553.5 681.0 C555.8 673.5 558.1 662.2 559.8 653.0 C561.4 643.8 562.4 633.5 563.4 626.0 C564.4 618.5 564.9 614.0 565.5 608.0 C566.1 602.0 566.6 598.0 567.0 590.0 C567.4 582.0 568.8 575.0 567.6 560.0 C566.4 545.0 574.6 515.0 560.0 500.0 C545.4 485.0 506.7 471.7 480.0 470.0 C453.3 468.3 419.2 475.0 400.0 490.0 C380.8 505.0 370.8 540.7 365.0 560.0 Z" fill="#fdfdfd" stroke="none" stroke-width="8.4" />
<path d="M361.0 648.0 C361.6 650.9 363.2 660.9 364.3 665.2 C365.4 669.5 366.6 670.9 367.7 674.0 C368.8 677.1 369.9 680.8 371.0 684.0 C372.1 687.2 372.6 689.4 374.0 693.0 C375.4 696.6 376.8 701.3 379.5 705.5 C382.2 709.7 386.5 713.6 390.4 718.1 C394.3 722.6 398.8 728.1 403.0 732.4 C407.2 736.7 410.7 740.3 415.6 744.1 C420.5 747.9 426.3 752.1 432.4 755.0 C438.5 757.9 445.7 760.1 452.0 761.3 C458.3 762.5 463.4 762.7 470.2 762.0 C477.0 761.3 486.2 759.9 492.8 757.2 C499.4 754.5 504.6 750.4 510.0 746.0 C515.4 741.6 520.1 737.0 525.0 731.0 C529.9 725.0 535.9 715.5 539.4 710.0 C542.9 704.5 543.6 702.8 546.0 698.0 C548.4 693.2 551.2 688.5 553.5 681.0 C555.8 673.5 558.1 662.2 559.8 653.0 C561.4 643.8 562.4 633.5 563.4 626.0 C564.4 618.5 564.9 614.0 565.5 608.0 C566.1 602.0 566.6 596.3 567.0 590.0 C567.4 583.7 567.5 573.3 567.6 570.0" fill="none" stroke="#103a6c" stroke-width="8.4" />
<path d="M331.9 578.6 C331.3 575.5 329.8 567.3 328.6 560.0 C327.4 552.7 325.4 542.8 324.5 535.0 C323.6 527.2 323.2 520.5 323.3 513.0 C323.4 505.5 324.1 496.6 325.0 490.0 C325.9 483.4 326.6 478.4 328.6 473.1 C330.6 467.8 333.6 462.4 337.0 458.0 C340.4 453.6 347.2 448.4 349.2 446.5 L346.5 439.8  C349.4 438.0 357.2 431.9 363.8 429.2 C370.4 426.5 382.6 424.8 386.4 423.9  C387.3 422.6 388.9 419.2 391.8 415.9 C394.7 412.6 396.8 408.3 403.7 403.9 C410.6 399.5 423.7 392.7 433.0 389.3 C442.3 385.9 451.9 384.5 459.6 383.3 C467.4 382.1 476.2 382.5 479.5 382.4 L474.0 391.0  C478.2 391.2 490.8 389.9 499.5 392.0 C508.2 394.1 514.9 398.1 526.0 403.9 C537.1 409.6 559.3 422.7 566.0 426.5 L564.6 431.9 L552.7 435.9  C556.4 439.0 568.8 446.1 575.0 454.5 C581.2 462.9 586.8 477.1 590.0 486.4 C593.2 495.6 593.4 503.7 594.0 510.0 C594.6 516.3 593.6 521.7 593.5 524.0 L587.5 519.0  C587.9 521.7 590.8 527.7 590.0 535.0 C589.2 542.3 585.3 555.8 583.0 563.0 C580.7 570.2 577.2 575.8 576.0 578.4 L567.6 580.0  C567.6 578.3 567.8 575.4 567.6 570.0 C567.4 564.6 567.6 554.6 566.2 547.6 C564.8 540.6 561.8 534.9 559.2 528.0 C556.6 521.1 552.9 512.1 550.5 506.3 C548.1 500.5 548.0 496.8 545.0 493.0 C542.0 489.2 538.1 486.6 532.7 483.7 C527.3 480.8 521.7 477.1 512.8 475.7 C503.9 474.3 492.8 474.9 479.5 475.1 C466.2 475.3 443.9 476.1 433.0 477.1 C422.1 478.1 421.0 478.5 414.4 481.1 C407.8 483.8 398.0 487.7 393.1 493.0 C388.2 498.3 388.2 505.7 385.1 513.0 C382.0 520.3 378.3 530.2 374.5 536.9 C370.7 543.5 364.3 547.4 362.5 552.9 C360.7 558.4 363.4 562.1 363.8 570.0 C364.2 577.9 365.0 595.0 365.2 600.0 L360.5 606.5  C359.3 604.3 356.2 597.2 353.2 593.2 C350.2 589.2 346.2 585.0 342.6 582.6 C339.1 580.2 333.7 579.3 331.9 578.6 Z" fill="#377dba" stroke="none" stroke-width="8.4" />
<path d="M331.9 578.6 C331.3 575.5 329.8 567.3 328.6 560.0 C327.4 552.7 325.4 542.8 324.5 535.0 C323.6 527.2 323.2 520.5 323.3 513.0 C323.4 505.5 324.1 496.6 325.0 490.0 C325.9 483.4 326.6 478.4 328.6 473.1 C330.6 467.8 333.6 462.4 337.0 458.0 C340.4 453.6 347.2 448.4 349.2 446.5 L346.5 439.8  C349.4 438.0 357.2 431.9 363.8 429.2 C370.4 426.5 382.6 424.8 386.4 423.9  C387.3 422.6 388.9 419.2 391.8 415.9 C394.7 412.6 396.8 408.3 403.7 403.9 C410.6 399.5 423.7 392.7 433.0 389.3 C442.3 385.9 451.9 384.5 459.6 383.3 C467.4 382.1 476.2 382.5 479.5 382.4 L474.0 391.0  C478.2 391.2 490.8 389.9 499.5 392.0 C508.2 394.1 514.9 398.1 526.0 403.9 C537.1 409.6 559.3 422.7 566.0 426.5 L564.6 431.9 L552.7 435.9  C556.4 439.0 568.8 446.1 575.0 454.5 C581.2 462.9 586.8 477.1 590.0 486.4 C593.2 495.6 593.4 503.7 594.0 510.0 C594.6 516.3 593.6 521.7 593.5 524.0 L587.5 519.0  C587.9 521.7 590.8 527.7 590.0 535.0 C589.2 542.3 585.3 555.8 583.0 563.0 C580.7 570.2 577.2 575.8 576.0 578.4" fill="none" stroke="#103a6c" stroke-width="8.4" />
<path d="M415.0 481.0 C411.4 483.0 398.1 487.7 393.1 493.0 C388.1 498.3 388.2 505.7 385.1 513.0 C382.0 520.3 378.3 530.2 374.5 536.9 C370.7 543.5 364.3 547.4 362.5 552.9 C360.7 558.4 363.4 562.1 363.8 570.0 C364.2 577.9 365.8 593.9 365.2 600.0 C364.6 606.1 362.5 607.6 360.5 606.5 C358.5 605.4 356.2 597.2 353.2 593.2 C350.2 589.2 346.2 585.0 342.6 582.6 C339.1 580.2 333.7 579.3 331.9 578.6" fill="none" stroke="#103a6c" stroke-width="8.4" />
<path d="M514.0 476.0 C517.1 477.3 527.5 480.9 532.7 483.7 C537.9 486.5 542.0 489.2 545.0 493.0 C548.0 496.8 548.1 500.5 550.5 506.3 C552.9 512.1 556.6 521.1 559.2 528.0 C561.8 534.9 564.8 540.6 566.2 547.6 C567.6 554.6 567.4 563.8 567.6 570.0 C567.8 576.2 567.3 582.5 567.3 585.0" fill="none" stroke="#103a6c" stroke-width="8.4" />
<path d="M434.3 474.4 C434.3 471.1 432.3 461.4 434.3 454.5 C436.3 447.6 440.5 439.0 446.3 433.2 C452.1 427.4 465.1 422.1 468.9 419.9" fill="none" stroke="#103a6c" stroke-width="8.4" />
<path d="M455.6 474.4 C456.9 471.1 458.5 460.5 463.6 454.5 C468.7 448.5 478.4 441.7 486.2 438.5 C493.9 435.3 506.1 435.8 510.1 435.2" fill="none" stroke="#103a6c" stroke-width="8.4" />
<path d="M483.5 478.4 C485.7 476.2 490.8 468.7 496.8 465.1 C502.8 461.6 510.5 457.1 519.4 457.1 C528.3 457.1 544.9 463.8 550.0 465.1" fill="none" stroke="#103a6c" stroke-width="8.4" />
<path d="M401.5 560.0 C402.9 559.4 406.9 557.2 410.0 556.3 C413.1 555.3 416.5 554.5 420.0 554.3 C423.5 554.1 427.5 554.3 431.0 555.0 C434.5 555.7 437.8 557.0 441.0 558.3 C444.2 559.6 448.8 562.2 450.3 563.0" fill="none" stroke="#103a6c" stroke-width="7.4" />
<path d="M502.5 564.8 C504.2 564.0 509.1 561.5 513.0 560.2 C516.9 558.9 522.1 557.3 526.1 557.0 C530.1 556.7 533.7 557.4 537.0 558.3 C540.3 559.2 544.5 561.6 546.0 562.2" fill="none" stroke="#103a6c" stroke-width="7.4" />
<ellipse cx="427" cy="589.3" rx="8" ry="9.3" fill="#103a6c"/>
<ellipse cx="519.4" cy="591.3" rx="8" ry="9.5" fill="#103a6c"/>
<path d="M482.2 588.6 L485.5 625.2" fill="none" stroke="#103a6c" stroke-width="6.5" />
<path d="M478 653.4 L487.3 646.6" fill="none" stroke="#103a6c" stroke-width="8.5" />
<path d="M433.5 682 L509.5 683.5 C504 698 490 706 471 706 C452 706 439 697 433.5 682 Z" fill="#fdfdfd" stroke="#103a6c" stroke-width="7.2" />
<path d="M460.5 721.8 C461.4 722.1 464.2 723.0 466.0 723.4 C467.8 723.8 469.6 724.0 471.5 724.0 C473.4 724.0 475.5 723.8 477.5 723.4 C479.5 723.0 482.5 722.1 483.5 721.8" fill="none" stroke="#103a6c" stroke-width="6.5" />
</g>


</svg>
</body>
</html>
